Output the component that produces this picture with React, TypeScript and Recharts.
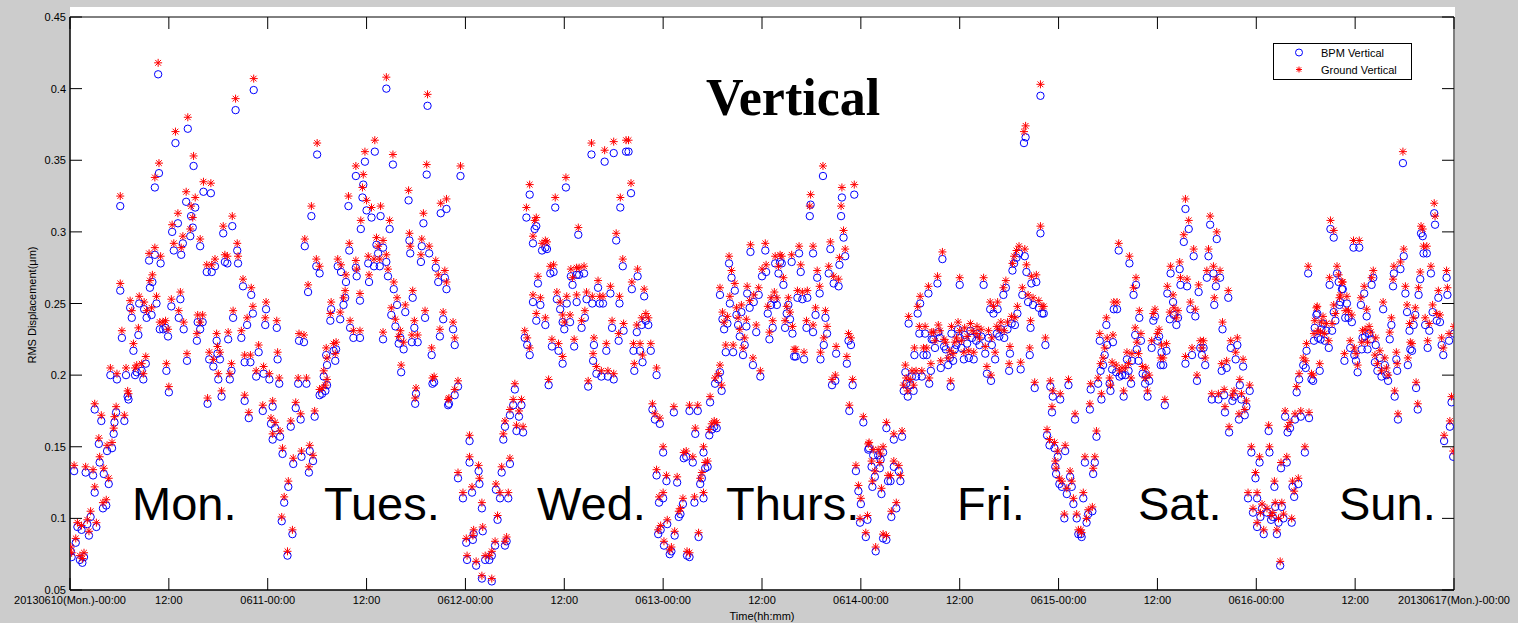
import { ScatterChart, Scatter, XAxis, YAxis, ReferenceArea, Legend } from 'recharts';

// [hour since 2013-06-10 00:00, BPM vertical, ground vertical] (µm)
const mon: number[][] = [
  [0.1,.077,.080],[0.2,.073,.076],[0.5,.133,.137],[0.7,.083,.086],[0.9,.094,.097],[1.2,.071,.074],[1.4,.092,.095],[1.5,.069,.072],[1.7,.073,.076],[1.9,.132,.136],
  [2.1,.096,.099],[2.3,.088,.091],[2.5,.101,.105],[2.8,.130,.134],[3.0,.118,.122],[3.0,.176,.180],[3.2,.094,.097],[3.5,.152,.156],[3.6,.139,.143],[3.8,.168,.172],
  [4.0,.107,.111],[4.1,.131,.135],[4.4,.109,.113],[4.5,.147,.151],[4.7,.124,.128],[4.9,.200,.205],[5.1,.149,.153],[5.3,.159,.163],[5.4,.167,.171],[5.6,.174,.178],
  [5.7,.197,.201],[6.1,.318,.325],[6.1,.259,.264],[6.3,.226,.231],[6.6,.168,.172],[6.8,.200,.205],[7.0,.185,.189],[7.1,.183,.187],[7.3,.247,.252],[7.5,.240,.245],
  [7.7,.217,.222],[7.9,.200,.205],[8.1,.202,.207],[8.3,.228,.233],[8.4,.250,.255],[8.7,.203,.208],[8.9,.197,.201],[9.0,.246,.251],[9.2,.208,.213],[9.3,.240,.245],
  [9.6,.280,.285],[9.7,.261,.266],[9.9,.242,.247],[10.0,.265,.270],[10.3,.331,.338],[10.3,.284,.289],[10.5,.250,.255],[10.7,.410,.418],[10.8,.341,.348],[10.9,.232,.237],
  [11.0,.278,.283],[11.3,.232,.237],[11.6,.233,.238],[11.7,.203,.208],[11.9,.227,.232],[12.0,.188,.192],[12.3,.248,.253],[12.4,.300,.305],[12.6,.287,.292],[12.8,.362,.370],
  [13.1,.306,.313],[13.2,.240,.245],[13.4,.253,.258],[13.5,.284,.289],[13.7,.292,.297],[13.8,.232,.237],[14.1,.321,.328],[14.2,.210,.215],[14.3,.372,.380],[14.6,.297,.302],
  [14.7,.311,.318],[14.9,.303,.310],[15.0,.346,.353],[15.2,.317,.324],[15.4,.224,.229],[15.5,.237,.242],[15.8,.232,.237],[15.8,.290,.295],[16.1,.237,.242],[16.2,.328,.335],
  [16.6,.272,.277],[16.7,.180,.184],[16.9,.211,.216],[17.1,.327,.334],[17.2,.272,.277],[17.4,.206,.211],[17.6,.276,.281],[17.8,.224,.229],[17.9,.215,.220],[18.0,.197,.201],
  [18.2,.211,.216],[18.4,.185,.189],[18.6,.299,.304],[18.8,.279,.284],[19.1,.278,.283],[19.2,.225,.230],[19.4,.197,.201],[19.6,.203,.208],[19.7,.304,.311],[19.8,.240,.245],
  [20.1,.385,.393],[20.3,.287,.292],[20.4,.278,.283],[21.0,.262,.267],[22.0,.256,.261],[22.3,.399,.407],[21.5,.235,.240],[20.8,.226,.231],[22.2,.243,.248],[23.8,.246,.251],
  [23.7,.235,.240],[22.9,.216,.221],[21.2,.209,.214],[21.9,.209,.214],[22.6,.199,.203],[23.5,.201,.206],[21.2,.182,.186],[21.7,.170,.174],[23.4,.175,.179],
];

const tue: number[][] = [
  [25.1,.233,.238],[24.2,.197,.201],[25.2,.211,.216],[25.4,.194,.198],[24.6,.178,.182],[24.4,.166,.170],[24.9,.163,.167],[25.5,.157,.161],[24.6,.155,.159],[25.8,.145,.149],
  [26.5,.122,.126],[26.0,.111,.115],[25.7,.098,.101],[27.0,.089,.092],[26.4,.074,.077],[27.1,.138,.142],[26.8,.164,.168],[27.4,.177,.181],[28.0,.169,.173],[28.1,.143,.147],
  [27.7,.194,.198],[28.7,.194,.198],[29.1,.147,.151],[29.0,.132,.136],[29.5,.140,.144],[29.7,.171,.175],[27.8,.224,.229],[28.4,.223,.228],[28.9,.258,.263],[29.3,.311,.318],
  [28.5,.290,.295],[29.9,.276,.281],[30.3,.271,.276],[30.0,.354,.362],[30.6,.187,.191],[30.3,.186,.190],[31.0,.189,.193],[30.8,.199,.203],[31.2,.193,.197],[31.2,.207,.212],
  [31.1,.214,.219],[31.6,.238,.243],[31.7,.246,.251],[32.2,.210,.215],[32.3,.218,.223],[32.0,.217,.222],[32.5,.276,.281],[32.8,.239,.244],[32.9,.272,.277],[33.2,.249,.254],
  [33.4,.254,.259],[33.5,.265,.270],[33.9,.287,.292],[33.8,.318,.325],[34.0,.233,.238],[34.4,.226,.231],[34.7,.275,.280],[34.8,.269,.274],[34.7,.339,.346],[35.2,.226,.231],
  [35.2,.252,.257],[35.3,.302,.308],[35.5,.324,.331],[35.6,.333,.340],[35.8,.349,.356],[36.0,.315,.322],[36.2,.278,.283],[36.3,.265,.270],[36.6,.310,.317],[36.9,.276,.281],
  [37.0,.356,.364],[37.2,.291,.296],[37.4,.285,.290],[37.6,.276,.281],[37.7,.311,.318],[38.0,.289,.294],[38.0,.225,.230],[38.4,.400,.408],[38.4,.279,.284],[38.6,.269,.274],
  [38.8,.302,.308],[39.0,.242,.247],[39.2,.347,.354],[39.3,.260,.265],[39.5,.234,.239],[39.7,.249,.254],[39.9,.222,.227],[40.1,.226,.231],[40.2,.202,.207],[40.5,.218,.223],
  [40.7,.244,.249],[41.1,.322,.329],[41.2,.294,.299],[41.3,.285,.290],[41.5,.223,.228],[41.6,.254,.259],[41.8,.233,.238],[41.9,.180,.184],[42.0,.187,.191],[42.2,.223,.228],
  [42.6,.279,.284],[42.7,.290,.295],[42.9,.306,.313],[43.1,.240,.245],[43.3,.340,.347],[43.4,.388,.396],[43.6,.285,.290],[43.9,.214,.219],[44.0,.194,.198],[44.2,.195,.199],
  [44.4,.275,.280],[44.7,.265,.270],[44.9,.227,.232],[45.0,.313,.320],[45.3,.239,.244],[45.5,.268,.273],[45.7,.260,.265],[45.7,.316,.323],[45.9,.179,.183],[47.4,.339,.346],
  [46.7,.221,.226],[46.5,.232,.237],[46.0,.180,.184],[46.7,.186,.190],[47.1,.192,.196],
];

const wed: number[][] = [
  [48.5,.154,.158],[47.1,.128,.132],[47.7,.114,.118],[48.8,.118,.122],[48.5,.139,.143],[49.6,.133,.137],[49.7,.124,.128],[50.0,.107,.111],[48.1,.083,.086],[48.9,.085,.088],
  [49.0,.089,.092],[50.1,.091,.094],[48.2,.071,.074],[49.3,.067,.070],[50.0,.058,.060],[51.2,.056,.058],[50.4,.071,.074],[50.9,.071,.074],[51.2,.074,.077],[51.6,.081,.084],
  [51.9,.099,.102],[51.7,.120,.124],[52.2,.114,.118],[52.8,.081,.084],[53.0,.084,.087],[53.2,.114,.118],[52.4,.132,.136],[53.4,.138,.142],[52.6,.155,.159],[52.8,.164,.168],
  [53.4,.172,.176],[53.8,.179,.183],[54.0,.190,.194],[54.2,.161,.165],[54.5,.171,.175],[54.8,.179,.183],[55.0,.160,.164],[55.2,.226,.231],[55.5,.221,.226],[55.8,.214,.219],
  [55.4,.310,.317],[55.8,.326,.333],[56.2,.292,.297],[56.2,.251,.256],[56.4,.302,.308],[56.6,.304,.310],[56.6,.238,.243],[56.8,.264,.269],[57.1,.249,.254],[57.3,.287,.292],
  [57.7,.289,.294],[57.9,.288,.293],[57.7,.235,.240],[58.1,.193,.197],[58.3,.271,.276],[58.5,.220,.225],[58.7,.272,.277],[58.9,.317,.324],[59.1,.253,.258],[59.3,.217,.222],
  [59.5,.246,.251],[59.8,.208,.213],[59.8,.237,.242],[60.0,.232,.237],[60.2,.331,.338],[60.3,.250,.255],[60.8,.269,.274],[61.0,.263,.268],[60.7,.237,.242],[61.2,.220,.225],
  [61.5,.270,.275],[61.7,.298,.303],[61.5,.251,.256],[61.8,.270,.275],[62.1,.233,.238],[62.4,.271,.276],[62.5,.240,.245],[62.7,.253,.258],[62.9,.192,.196],[63.3,.354,.362],
  [63.4,.250,.255],[63.5,.210,.215],[63.6,.221,.226],[63.9,.201,.206],[64.1,.261,.266],[64.3,.250,.255],[64.5,.199,.203],[64.7,.250,.255],[64.9,.349,.357],[65.1,.217,.222],
  [65.3,.199,.203],[65.6,.257,.262],[65.8,.233,.238],[66.0,.355,.363],[66.0,.197,.201],[66.3,.294,.299],[66.6,.224,.229],[66.7,.250,.255],[66.8,.317,.324],[67.1,.276,.281],
  [67.2,.231,.236],[67.5,.356,.364],[67.8,.356,.364],[68.1,.327,.334],[68.2,.260,.265],[68.4,.217,.222],[68.5,.203,.208],[68.8,.230,.235],[68.9,.269,.274],[69.2,.217,.222],
  [69.4,.235,.240],[69.5,.209,.214],[69.7,.255,.260],[69.9,.238,.243],[70.2,.235,.240],[70.5,.217,.222],[71.2,.200,.205],[70.7,.176,.180],[71.0,.169,.173],[71.2,.130,.134],
  [71.5,.111,.115],[71.4,.089,.092],[71.6,.166,.170],
];

const thu: number[][] = [
  [72.0,.114,.118],[72.0,.146,.150],[72.4,.126,.130],[71.7,.092,.095],[72.1,.081,.084],[72.5,.096,.099],[72.8,.075,.078],[73.0,.077,.080],[73.3,.174,.178],[73.4,.088,.091],
  [73.7,.125,.129],[73.9,.101,.105],[74.1,.103,.107],[74.4,.110,.114],[74.5,.142,.146],[74.8,.143,.147],[74.9,.074,.077],[75.2,.073,.076],[75.2,.175,.179],[75.6,.139,.143],
  [75.8,.111,.115],[75.9,.159,.163],[76.2,.175,.179],[76.3,.087,.090],[76.5,.124,.128],[76.7,.128,.132],[76.9,.114,.118],[76.9,.146,.150],[77.1,.135,.139],[77.4,.136,.140],
  [77.6,.158,.162],[77.7,.181,.185],[77.9,.162,.166],[78.2,.164,.168],[78.3,.194,.198],[78.5,.163,.167],[78.7,.197,.201],[78.9,.202,.207],[79.1,.189,.193],[78.9,.256,.261],
  [79.2,.239,.244],[79.4,.232,.237],[79.6,.216,.221],[79.8,.236,.241],[80.0,.278,.283],[80.1,.250,.255],[80.3,.268,.273],[80.5,.216,.221],[80.7,.259,.264],[80.9,.242,.247],
  [81.1,.235,.240],[81.3,.227,.232],[81.5,.244,.249],[81.7,.214,.219],[81.9,.221,.226],[82.1,.234,.239],[82.2,.257,.262],[82.5,.247,.252],[82.6,.286,.291],[82.9,.207,.212],
  [83.0,.251,.256],[83.3,.230,.235],[83.6,.256,.261],[83.8,.199,.203],[84.0,.269,.274],[84.4,.287,.292],[84.5,.272,.277],[84.7,.243,.248],[84.9,.225,.230],[85.1,.249,.254],
  [85.3,.233,.238],[85.5,.253,.258],[85.6,.278,.283],[85.8,.249,.254],[86.0,.271,.276],[86.2,.279,.284],[86.4,.278,.283],[86.6,.263,.268],[86.8,.233,.238],[87.0,.243,.248],
  [87.2,.249,.254],[87.4,.239,.244],[87.6,.279,.284],[87.7,.229,.234],[87.9,.213,.218],[88.1,.213,.218],[88.3,.254,.259],[88.5,.285,.290],[88.7,.272,.277],[88.9,.253,.258],
  [89.1,.211,.216],[89.4,.233,.238],[89.5,.254,.259],[89.8,.311,.318],[89.9,.319,.326],[90.2,.285,.290],[90.2,.230,.235],[90.5,.242,.247],[90.7,.268,.273],[91.0,.257,.262],
  [91.1,.211,.216],[91.4,.339,.346],[91.5,.221,.226],[91.7,.240,.245],[91.9,.229,.234],[92.1,.271,.276],[92.3,.288,.293],[92.5,.193,.197],[92.7,.264,.269],[92.9,.196,.200],
  [93.0,.215,.220],[93.3,.262,.267],[93.4,.277,.282],[93.6,.311,.318],[93.7,.324,.331],[93.9,.296,.301],[94.1,.283,.288],[94.3,.208,.213],[94.5,.224,.229],[94.6,.175,.179],
  [94.8,.221,.226],[95.0,.193,.197],[95.2,.326,.333],[95.4,.133,.137],[95.7,.119,.123],[95.9,.097,.100],
];

const fri: number[][] = [
  [96.0,.110,.114],[96.3,.167,.171],[96.6,.087,.090],[96.9,.148,.152],[96.8,.099,.102],[97.0,.149,.153],[97.3,.136,.140],[97.5,.144,.148],[97.4,.122,.126],[97.7,.129,.133],
  [97.8,.077,.080],[98.1,.144,.148],[98.3,.135,.139],[98.4,.141,.145],[98.5,.117,.121],[98.7,.146,.150],[98.7,.086,.089],[99.1,.085,.088],[99.1,.163,.167],[99.3,.126,.130],
  [99.6,.126,.130],[99.7,.101,.105],[100.0,.136,.140],[100.0,.155,.159],[100.3,.107,.111],[100.6,.133,.137],[100.8,.126,.130],[101.0,.157,.161],[101.2,.189,.193],[101.5,.194,.198],
  [101.4,.202,.207],[101.8,.236,.241],[101.7,.185,.189],[102.0,.193,.197],[102.2,.199,.203],[102.4,.189,.193],[102.5,.214,.219],[102.7,.199,.203],[102.9,.243,.248],[103.1,.229,.234],
  [103.2,.250,.255],[103.4,.199,.203],[103.6,.214,.219],[103.8,.229,.234],[104.0,.214,.219],[104.2,.257,.262],[104.3,.194,.198],[104.5,.203,.208],[104.6,.225,.230],[104.8,.225,.230],
  [105.0,.219,.224],[105.3,.264,.269],[105.4,.230,.235],[105.6,.226,.231],[105.7,.205,.210],[105.9,.281,.286],[106.1,.220,.225],[106.3,.218,.223],[106.6,.207,.212],[106.8,.212,.217],
  [106.9,.192,.196],[107.0,.229,.234],[107.2,.210,.215],[107.4,.218,.223],[107.6,.221,.226],[107.8,.232,.237],[108.0,.263,.268],[108.0,.226,.231],[108.2,.219,.224],[108.5,.211,.216],
  [108.6,.228,.233],[108.9,.222,.227],[109.1,.212,.217],[109.3,.231,.236],[109.5,.226,.231],[109.7,.211,.216],[110.0,.224,.229],[110.1,.229,.234],[110.4,.221,.226],[110.6,.227,.232],
  [110.9,.263,.268],[111.1,.215,.220],[111.3,.201,.206],[111.5,.226,.231],[111.7,.246,.251],[111.8,.196,.200],[111.9,.221,.226],[112.1,.243,.248],[112.3,.211,.216],[112.5,.229,.234],
  [112.6,.246,.251],[112.8,.227,.232],[113.0,.232,.237],[113.3,.256,.261],[113.4,.226,.231],[113.6,.261,.266],[113.8,.232,.237],[114.0,.203,.208],[114.1,.215,.220],[114.3,.236,.241],
  [114.4,.273,.278],[114.6,.278,.283],[114.7,.235,.240],[114.9,.282,.287],[115.0,.243,.248],[115.2,.285,.290],[115.4,.204,.209],[115.6,.256,.261],[115.8,.362,.370],[116.0,.366,.374],
  [115.9,.283,.288],[116.1,.272,.277],[116.3,.251,.256],[116.5,.214,.219],[116.6,.233,.238],[116.7,.264,.269],[116.9,.249,.254],[117.1,.191,.195],[117.3,.265,.270],[117.6,.247,.252],
  [117.8,.395,.403],[117.8,.299,.304],[118.0,.243,.248],[118.2,.243,.248],[118.4,.221,.226],[118.6,.158,.162],[118.9,.151,.155],[119.0,.192,.196],[119.2,.174,.178],[119.3,.185,.189],
  [119.5,.149,.153],[119.6,.136,.140],[119.7,.131,.135],[119.9,.143,.147],
];

const sat: number[][] = [
  [120.1,.124,.128],[120.2,.183,.187],[120.4,.122,.126],[120.7,.100,.103],[120.8,.147,.151],[121.0,.117,.121],[121.2,.193,.197],[121.4,.129,.133],[121.6,.122,.126],[121.8,.110,.114],
  [122.0,.169,.173],[122.2,.100,.103],[122.4,.089,.092],[122.7,.089,.092],[122.8,.087,.090],[123.0,.114,.118],[123.2,.139,.143],[123.4,.097,.100],[123.6,.103,.106],[123.8,.176,.180],
  [123.9,.190,.194],[124.1,.105,.108],[124.2,.131,.135],[124.4,.139,.143],[124.6,.157,.161],[124.8,.194,.198],[125.0,.224,.229],[125.1,.203,.208],[125.2,.183,.187],[125.4,.207,.212],
  [125.6,.214,.219],[125.8,.235,.240],[125.9,.221,.226],[126.2,.194,.198],[126.3,.189,.193],[126.5,.204,.209],[126.6,.223,.228],[126.7,.246,.251],[127.1,.246,.251],[127.0,.202,.207],
  [127.3,.287,.292],[127.4,.199,.203],[127.7,.200,.205],[127.9,.185,.189],[128.1,.200,.205],[128.3,.211,.216],[128.5,.203,.208],[128.6,.278,.283],[128.8,.194,.198],[128.9,.210,.215],
  [129.1,.256,.261],[129.3,.228,.233],[129.4,.263,.268],[129.5,.218,.223],[129.7,.210,.215],[129.8,.240,.245],[130.0,.224,.229],[130.2,.201,.206],[130.5,.194,.198],[130.6,.200,.205],
  [130.8,.185,.189],[131.0,.196,.200],[131.3,.219,.224],[131.5,.238,.243],[131.7,.241,.246],[132.0,.224,.229],[132.2,.227,.232],[132.4,.207,.212],[132.5,.216,.221],[132.7,.207,.212],
  [132.9,.179,.183],[133.1,.217,.222],[133.2,.257,.262],[133.5,.239,.244],[133.6,.271,.276],[133.9,.251,.256],[134.0,.242,.247],[134.3,.235,.240],[134.5,.240,.245],[134.7,.274,.279],
  [134.8,.263,.268],[135.2,.293,.298],[135.4,.208,.213],[135.4,.316,.323],[135.6,.262,.267],[135.8,.302,.308],[136.0,.246,.251],[136.2,.214,.219],[136.4,.283,.288],[136.6,.241,.246],
  [136.8,.196,.200],[137.0,.258,.263],[137.2,.219,.224],[137.4,.214,.219],[137.6,.219,.224],[137.8,.207,.212],[138.0,.268,.273],[138.2,.283,.288],[138.4,.305,.311],[138.6,.183,.187],
  [138.8,.271,.276],[138.9,.249,.254],[139.1,.262,.267],[139.2,.295,.300],[139.4,.183,.187],[139.6,.268,.273],[139.8,.203,.208],[139.9,.232,.237],[140.1,.186,.190],[140.2,.174,.178],
  [140.4,.205,.210],[140.6,.254,.259],[140.7,.160,.164],[140.9,.219,.224],[141.1,.182,.186],[141.3,.185,.189],[141.5,.211,.216],[141.7,.221,.226],[141.9,.169,.173],[142.0,.193,.197],
  [142.2,.183,.187],[142.4,.206,.211],[142.6,.172,.176],[142.8,.178,.182],[143.0,.114,.118],[143.2,.189,.193],[143.4,.146,.150],[143.6,.104,.107],[143.9,.128,.132],
];

const sun: number[][] = [
  [144.1,.094,.097],[144.1,.114,.118],[144.4,.139,.143],[144.5,.101,.104],[144.7,.107,.110],[144.9,.089,.092],[145.3,.104,.107],[145.5,.161,.165],[145.6,.146,.150],[145.8,.099,.102],
  [146.0,.101,.104],[146.2,.122,.126],[146.3,.108,.111],[146.5,.089,.092],[146.7,.097,.100],[146.9,.067,.070],[147.0,.135,.139],[147.1,.108,.111],[147.3,.100,.103],[147.5,.171,.175],
  [147.7,.139,.143],[147.8,.160,.164],[148.1,.163,.167],[148.3,.097,.100],[148.4,.122,.126],[148.6,.115,.119],[148.7,.169,.173],[148.9,.188,.192],[149.1,.124,.128],[149.2,.197,.201],
  [149.4,.171,.175],[149.7,.207,.212],[149.9,.146,.150],[150.0,.205,.210],[150.1,.217,.222],[150.3,.271,.276],[150.4,.170,.174],[150.7,.197,.201],[150.9,.196,.200],[151.0,.224,.229],
  [151.1,.233,.238],[151.3,.242,.247],[151.4,.243,.248],[151.5,.226,.231],[151.7,.203,.208],[151.8,.225,.230],[151.9,.232,.237],[152.1,.236,.241],[152.3,.224,.229],[152.5,.231,.236],
  [152.8,.219,.224],[152.9,.263,.268],[153.0,.302,.308],[153.2,.231,.236],[153.4,.296,.301],[153.4,.244,.249],[153.6,.238,.243],[153.8,.271,.276],[154.0,.265,.270],[154.1,.249,.254],
  [154.2,.251,.256],[154.4,.260,.265],[154.5,.260,.265],[154.7,.210,.215],[154.8,.240,.245],[155.0,.250,.255],[155.2,.240,.245],[155.4,.219,.224],[155.6,.237,.242],[155.8,.289,.294],
  [155.9,.214,.219],[156.1,.210,.215],[156.3,.202,.207],[156.5,.289,.294],[156.7,.249,.254],[156.8,.218,.223],[156.9,.226,.231],[157.1,.257,.262],[157.2,.227,.232],[157.4,.241,.246],
  [157.5,.218,.223],[157.7,.229,.234],[157.9,.225,.230],[158.0,.263,.268],[158.2,.268,.273],[158.4,.209,.214],[158.5,.221,.226],[158.7,.203,.208],[159.0,.212,.217],[159.2,.199,.203],
  [159.4,.246,.251],[159.6,.207,.212],[159.8,.200,.205],[160.0,.196,.200],[160.2,.225,.230],[160.4,.235,.240],[160.6,.262,.267],[160.7,.271,.276],[160.8,.185,.189],[161.0,.211,.216],
  [161.1,.203,.208],[161.2,.169,.173],[161.5,.274,.279],[161.8,.348,.356],[161.9,.283,.288],[162.1,.257,.262],[162.3,.244,.249],[162.4,.207,.212],[162.6,.231,.236],[162.7,.218,.223],
  [162.9,.217,.222],[163.1,.235,.240],[163.3,.242,.247],[163.4,.191,.195],[163.6,.176,.180],[163.7,.256,.261],[163.9,.267,.272],[164.0,.299,.304],[164.2,.297,.302],[164.3,.285,.290],
  [164.5,.235,.240],[164.7,.285,.290],[164.8,.219,.224],[165.0,.231,.236],[165.2,.271,.276],[165.4,.244,.249],[165.6,.313,.320],[165.7,.305,.311],[165.9,.238,.243],[166.1,.254,.259],
  [166.3,.237,.242],[166.5,.221,.226],[166.7,.214,.219],[166.8,.154,.158],[167.1,.268,.273],[167.2,.256,.261],[167.4,.224,.229],[167.5,.164,.168],[167.7,.181,.185],[167.9,.143,.147],
  [168.0,.229,.234],
];

const xTicks = [0, 12, 24, 36, 48, 60, 72, 84, 96, 108, 120, 132, 144, 156, 168];
const xTickLabels = [
  '20130610(Mon.)-00:00', '12:00', '0611-00:00', '12:00', '0612-00:00', '12:00', '0613-00:00', '12:00',
  '0614-00:00', '12:00', '0615-00:00', '12:00', '0616-00:00', '12:00', '20130617(Mon.)-00:00',
];
const yTicks = [0.05, 0.1, 0.15, 0.2, 0.25, 0.3, 0.35, 0.4, 0.45];
const yTickLabels = ['0.05', '0.1', '0.15', '0.2', '0.25', '0.3', '0.35', '0.4', '0.45'];
const dayNames = ['Mon.', 'Tues.', 'Wed.', 'Thurs.', 'Fri.', 'Sat.', 'Sun.'];
const seriesNames = ['BPM Vertical', 'Ground Vertical'];

const allPoints = [mon, tue, wed, thu, fri, sat, sun].flat();
const bpmData = allPoints.map(p => ({ t: p[0], v: p[1] }));
const groundData = allPoints.map(p => ({ t: p[0], v: p[2] }));

// layout
const W = 1518;
const H = 623;
const PLOT_L = 70;
const PLOT_R = 1454;
const PLOT_T = 17;
const PLOT_B = 590;
const TICK = 12;
const dayLabelLeft = [132, 324, 537, 726, 957, 1138, 1339];
const FONT = '"Liberation Sans", Arial, Helvetica, sans-serif';

function Ring({ cx, cy }: any) {
  return <circle cx={cx} cy={cy} r={3.7} fill="none" stroke="#0000ff" strokeWidth={1} />;
}

// MATLAB-style '*' marker; arm is the half length in px
function StarMark({ cx, cy, arm }: { cx: number; cy: number; arm: number }) {
  const d = arm * 0.72;
  return (
    <g stroke="#ff0000" strokeWidth={1}>
      <line x1={cx - arm} y1={cy} x2={cx + arm} y2={cy} />
      <line x1={cx} y1={cy - arm} x2={cx} y2={cy + arm} />
      <line x1={cx - d} y1={cy - d} x2={cx + d} y2={cy + d} />
      <line x1={cx - d} y1={cy + d} x2={cx + d} y2={cy - d} />
    </g>
  );
}

const Asterisk = (p: any) => <StarMark cx={p.cx} cy={p.cy} arm={4} />;

function XTick({ x, payload }: any) {
  const label = xTickLabels[xTicks.indexOf(payload.value)];
  return (
    <g>
      <line x1={x} x2={x} y1={PLOT_B} y2={PLOT_B - TICK} stroke="#000" />
      <line x1={x} x2={x} y1={PLOT_T} y2={PLOT_T + TICK} stroke="#000" />
      <text x={x} y={PLOT_B + 14} textAnchor="middle" fontSize={11} fill="#000" fontFamily={FONT}>
        {label}
      </text>
    </g>
  );
}

function YTick({ y, payload }: any) {
  const label = yTickLabels[yTicks.indexOf(payload.value)];
  return (
    <g>
      <line x1={PLOT_L} x2={PLOT_L + TICK} y1={y} y2={y} stroke="#000" />
      <line x1={PLOT_R} x2={PLOT_R - TICK} y1={y} y2={y} stroke="#000" />
      <text x={PLOT_L - 4} y={y + 4} textAnchor="end" fontSize={11} fill="#000" fontFamily={FONT}>
        {label}
      </text>
    </g>
  );
}

function LegendBox() {
  return (
    <svg width={139} height={37} style={{ display: 'block' }}>
      <rect x={0.5} y={0.5} width={138} height={36} fill="#fff" stroke="#000" />
      <circle cx={26} cy={9.5} r={3.5} fill="none" stroke="#0000ff" />
      <text x={48} y={13.5} fontSize={11} fontFamily={FONT} fill="#000">{seriesNames[0]}</text>
      <StarMark cx={26} cy={26.5} arm={3} />
      <text x={48} y={30.5} fontSize={11} fontFamily={FONT} fill="#000">{seriesNames[1]}</text>
    </svg>
  );
}

export default function App() {
  return (
    <div style={{ position: 'absolute', left: 0, top: 0, width: W, height: H, background: '#cccccc', overflow: 'hidden' }}>
      <div style={{ position: 'absolute', left: PLOT_L, top: 7, width: PLOT_R - PLOT_L + 1, height: PLOT_B - 7, background: '#fff' }} />
      <div style={{ position: 'absolute', left: 0, top: 0 }}>
        <ScatterChart width={W} height={H} margin={{ top: PLOT_T, right: W - PLOT_R, bottom: 0, left: 0 }}>
          <XAxis
            type="number"
            dataKey="t"
            domain={[0, 168]}
            ticks={xTicks}
            interval={0}
            allowDataOverflow
            height={H - PLOT_B}
            tickLine={false}
            axisLine={{ stroke: '#000' }}
            tick={(p: any) => <XTick {...p} />}
          />
          <YAxis
            type="number"
            dataKey="v"
            domain={[0.05, 0.45]}
            ticks={yTicks}
            interval={0}
            allowDataOverflow
            width={PLOT_L}
            tickLine={false}
            axisLine={{ stroke: '#000' }}
            tick={(p: any) => <YTick {...p} />}
          />
          <ReferenceArea x1={0} x2={168} y1={0.05} y2={0.45} fill="none" stroke="#000" strokeWidth={1} ifOverflow="visible" />
          <Scatter name={seriesNames[0]} data={bpmData} shape={Ring} isAnimationActive={false} />
          <Scatter name={seriesNames[1]} data={groundData} shape={Asterisk} isAnimationActive={false} />
          <Legend
            layout="horizontal"
            verticalAlign="middle"
            align="center"
            wrapperStyle={{ left: 1273, top: 43, width: 139, height: 37 }}
            content={() => <LegendBox />}
          />
        </ScatterChart>
      </div>
      <svg width={W} height={H} style={{ position: 'absolute', left: 0, top: 0, pointerEvents: 'none' }}>
        <text x={706} y={115} fontSize={52} fontWeight="bold" fontFamily='"Liberation Serif", "Times New Roman", serif' fill="#000">
          Vertical
        </text>
        {dayNames.map((d, i) => (
          <text key={d} x={dayLabelLeft[i]} y={520} fontSize={47} fontFamily={FONT} fill="#000">
            {d}
          </text>
        ))}
        <text x={36} y={305} transform="rotate(-90 36 305)" textAnchor="middle" fontSize={11} fontFamily={FONT} fill="#000">
          RMS Displacement(μm)
        </text>
        <text x={762} y={620} textAnchor="middle" fontSize={11} fontFamily={FONT} fill="#000">
          Time(hh:mm)
        </text>
      </svg>
    </div>
  );
}
